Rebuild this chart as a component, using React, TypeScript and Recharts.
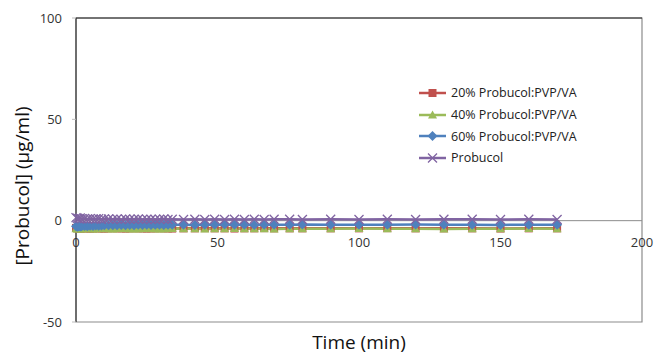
import { LineChart, Line, XAxis, YAxis, ReferenceLine, ReferenceArea } from 'recharts'

// Sampling times (min) and measured concentrations (µg/ml)
const times = [
  0, 0.5, 1, 1.5, 2, 3, 4, 5, 6, 7, 8, 9, 10,
  11.5, 13, 14.5, 16, 17.5, 19, 20.5, 22, 23.5, 25, 26.5, 28, 29.5, 31, 32.5, 34,
  38, 42, 45.5, 49, 52.5, 56, 59.5, 63, 66.5, 70,
  75.5, 80,
  90, 100, 110, 120, 130, 140, 150, 160, 170,
]

const pvp20 = [
  -3.6, -3.8, -3.7, -3.9, -3.8, -3.7, -3.8, -3.9, -3.8, -3.7, -3.8, -3.8, -3.9,
  -3.8, -3.7, -3.8, -3.8, -3.9, -3.8, -3.7, -3.8, -3.8, -3.9, -3.8, -3.8, -3.7, -3.8, -3.8, -3.9,
  -3.8, -3.8, -3.7, -3.8, -3.8, -3.9, -3.8, -3.8, -3.7, -3.8,
  -3.8, -3.8,
  -3.8, -3.8, -3.7, -3.8, -3.8, -3.8, -3.9, -3.8, -3.8,
]

const pvp40 = [
  -4.0, -4.1, -3.9, -4.0, -4.1, -4.0, -3.9, -4.0, -4.1, -4.0, -4.0, -3.9, -4.0,
  -4.0, -4.1, -4.0, -3.9, -4.0, -4.0, -4.1, -4.0, -4.0, -3.9, -4.0, -4.0, -4.1, -4.0, -4.0, -3.9,
  -4.0, -4.0, -4.1, -4.0, -4.0, -3.9, -4.0, -4.0, -4.0, -4.1,
  -4.0, -4.0,
  -4.0, -3.9, -4.0, -4.0, -4.1, -4.0, -4.0, -3.9, -4.0,
]

const pvp60 = [
  -2.8, -3.0, -2.7, -2.9, -2.8, -2.6, -2.7, -2.5, -2.6, -2.4, -2.5, -2.4, -2.3,
  -2.3, -2.2, -2.3, -2.1, -2.2, -2.1, -2.2, -2.0, -2.1, -2.0, -2.1, -2.0, -2.0, -2.1, -2.0, -2.0,
  -2.0, -2.1, -2.0, -2.0, -1.9, -2.0, -2.0, -2.1, -2.0, -2.0,
  -2.0, -1.9,
  -2.0, -2.0, -2.0, -1.9, -2.0, -2.0, -2.1, -2.0, -2.0,
]

const probucol = [
  1.5, 1.2, 1.0, 1.3, 0.9, 1.1, 0.8, 1.0, 0.9, 0.8, 1.0, 0.7, 0.9,
  0.8, 0.7, 0.8, 0.6, 0.8, 0.7, 0.7, 0.8, 0.6, 0.7, 0.7, 0.6, 0.7, 0.8, 0.6, 0.7,
  0.6, 0.7, 0.6, 0.7, 0.6, 0.7, 0.6, 0.7, 0.6, 0.7,
  0.7, 0.6,
  0.7, 0.6, 0.7, 0.6, 0.7, 0.7, 0.6, 0.7, 0.6,
]

const xTicks = [0, 50, 100, 150, 200]
const yTicks = [-50, 0, 50, 100]

const series = [
  { key: 'pvp20', name: '20% Probucol:PVP/VA', color: '#c0504d', shape: 'square' },
  { key: 'pvp40', name: '40% Probucol:PVP/VA', color: '#9bbb59', shape: 'triangle' },
  { key: 'pvp60', name: '60% Probucol:PVP/VA', color: '#4f81bd', shape: 'diamond' },
  { key: 'probucol', name: 'Probucol', color: '#8064a2', shape: 'cross' },
]

const data = times.map((t, i) => ({
  time: t,
  pvp20: pvp20[i],
  pvp40: pvp40[i],
  pvp60: pvp60[i],
  probucol: probucol[i],
}))

const FONT = '"Open Sans", "Noto Sans", sans-serif'

function Marker({ cx, cy, shape, color }: { cx?: number; cy?: number; shape: string; color: string }) {
  if (cx == null || cy == null) return null
  switch (shape) {
    case 'square':
      return <rect x={cx - 4} y={cy - 4} width={8} height={8} fill={color} />
    case 'triangle':
      return <path d={`M${cx},${cy - 4.5} L${cx + 4.5},${cy + 3.5} L${cx - 4.5},${cy + 3.5} Z`} fill={color} />
    case 'diamond':
      return <path d={`M${cx},${cy - 5} L${cx + 5},${cy} L${cx},${cy + 5} L${cx - 5},${cy} Z`} fill={color} />
    default:
      return (
        <path
          d={`M${cx - 4.5},${cy - 4.5} L${cx + 4.5},${cy + 4.5} M${cx - 4.5},${cy + 4.5} L${cx + 4.5},${cy - 4.5}`}
          stroke={color}
          strokeWidth={1.3}
          fill="none"
        />
      )
  }
}

// x labels sit just under the zero line, not at the bottom of the plot box
const zeroLabelLift = 75

function XTick({ x, y, payload }: any) {
  return (
    <text x={x} y={y - zeroLabelLift} textAnchor="middle" fill="#333" fontSize={13} fontFamily={FONT}>
      {payload.value}
    </text>
  )
}

// legend drawn outside the chart so it doesn't eat plot space
function LegendBox() {
  return (
    <div style={{ position: 'absolute', left: 418, top: 82, fontFamily: FONT, fontSize: 12.5, color: '#222' }}>
      {series.map((s) => (
        <div key={s.key} style={{ display: 'flex', alignItems: 'center', height: 21.7, whiteSpace: 'nowrap' }}>
          <svg width={32} height={12} style={{ marginRight: 1 }}>
            <line x1={1} y1={6} x2={28} y2={6} stroke={s.color} strokeWidth={2.5} />
            <Marker cx={14.5} cy={6} shape={s.shape} color={s.color} />
          </svg>
          <span>{s.name}</span>
        </div>
      ))}
    </div>
  )
}

export default function App() {
  return (
    <div style={{ position: 'absolute', left: 0, top: 0, width: 654, height: 354, background: '#fff' }}>
      <LineChart width={654} height={354} data={data} margin={{ top: 18, right: 12, left: 0, bottom: 2 }}>
        <ReferenceArea x1={0} x2={200} y1={-50} y2={100} fill="none" stroke="#8c8c8c" strokeWidth={1.2} />
        <ReferenceLine y={0} stroke="#8c8c8c" strokeWidth={1} />
        <ReferenceLine y={100} stroke="#222" strokeWidth={1} />
        <XAxis
          dataKey="time"
          type="number"
          domain={[0, 200]}
          ticks={xTicks}
          axisLine={false}
          tickLine={false}
          tickSize={0}
          tickMargin={0}
          height={30}
          tick={<XTick />}
          label={{ value: 'Time (min)', position: 'insideBottom', offset: 3, fontSize: 19, fill: '#111', fontFamily: FONT }}
        />
        <YAxis
          type="number"
          domain={[-50, 100]}
          ticks={yTicks}
          width={76}
          axisLine={{ stroke: '#222', strokeWidth: 1 }}
          tickLine={{ stroke: '#bbb' }}
          tickSize={4}
          tickMargin={10}
          tick={{ fontSize: 13, fill: '#333', fontFamily: FONT }}
          label={({ viewBox }: any) => (
            <text
              x={viewBox.x + 22}
              y={viewBox.y + viewBox.height / 2 + 16}
              transform={`rotate(-90 ${viewBox.x + 22} ${viewBox.y + viewBox.height / 2 + 16})`}
              textAnchor="middle"
              dominantBaseline="central"
              fontSize={19}
              fill="#111"
              fontFamily={FONT}
            >
              [Probucol] (µg/ml)
            </text>
          )}
        />
        {series.map((s) => (
          <Line
            key={s.key}
            dataKey={s.key}
            name={s.name}
            stroke={s.color}
            strokeWidth={2.5}
            isAnimationActive={false}
            dot={(p: any) => <Marker key={`${s.key}-${p.index}`} cx={p.cx} cy={p.cy} shape={s.shape} color={s.color} />}
            activeDot={false}
          />
        ))}
      </LineChart>
      <LegendBox />
    </div>
  )
}
